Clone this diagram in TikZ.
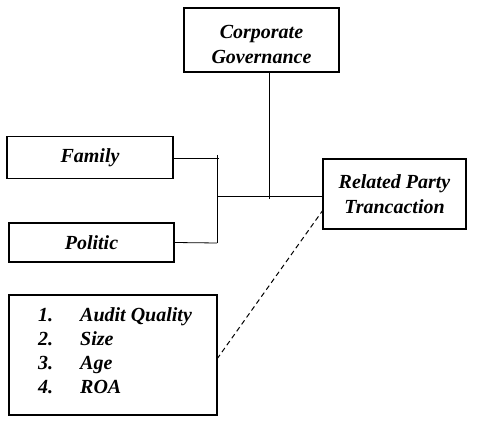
\documentclass[tikz,border=0pt]{standalone}
\usepackage{fontspec}
\setmainfont{Liberation Serif}
\begin{document}
\begin{tikzpicture}[x=1pt,y=-1pt,
  box/.style={draw,line width=1.4pt,rectangle,inner sep=0pt,align=center,
    font=\fontsize{20}{25}\selectfont\bfseries\itshape},
  txt/.style={inner sep=0pt,anchor=base west,font=\fontsize{20}{24}\selectfont\bfseries\itshape},
  conn/.style={line width=0.8pt}]
\useasboundingbox (0,0) rectangle (478,427);
\node[box,minimum width=155,minimum height=64] (cg) at (261.5,40) {\rule{0pt}{22pt}Corporate\\Governance};
\node[box,minimum width=166,minimum height=42] (fam) at (90,157.5) {Family};
\node[box,minimum width=165,minimum height=39] (pol) at (91.5,242.5) {Politic};
\node[box,minimum width=143,minimum height=70] (rel) at (394.5,194) {Related Party\\Trancaction};
\node[box,minimum width=208,minimum height=120] (ctrl) at (113,355) {};
\node[txt] (l1) at (38,321) {\makebox[42pt][l]{1.}Audit Quality};
\node[txt] (l2) at (38,345) {\makebox[42pt][l]{2.}Size};
\node[txt] (l3) at (38,369.5) {\makebox[42pt][l]{3.}Age};
\node[txt] (l4) at (38,393.5) {\makebox[42pt][l]{4.}ROA};
\coordinate (jtop) at (217,155);
\coordinate (jbot) at (217,243);
\coordinate (jmid) at (217,196);
\coordinate (fend) at (218.5,158);
\coordinate (cgx) at (269,72);
\coordinate (cgend) at (269,199);
\coordinate (d1) at (217,359);
\coordinate (d2) at (323,210);
\draw[conn] (jtop) -- (jbot);
\draw[conn] (fam.east |- fend) -- (fend);
\draw[conn] (pol.east) -- (jbot);
\draw[conn] (jmid) -- (rel.west |- jmid);
\draw[conn] (cgx) -- (cgend);
\draw[conn,line width=1pt,dash pattern=on 5pt off 3.5pt] (d1) -- (d2);
\end{tikzpicture}
\end{document}
